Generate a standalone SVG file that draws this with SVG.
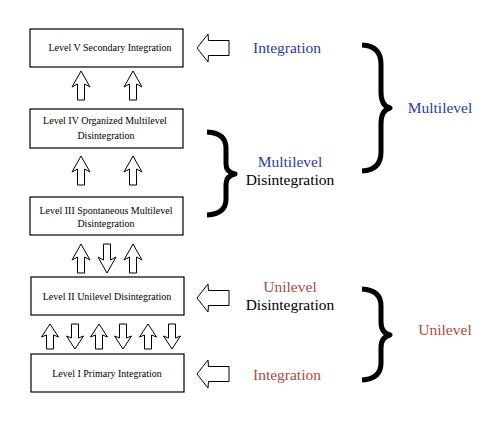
<svg xmlns="http://www.w3.org/2000/svg" width="500" height="425" viewBox="0 0 500 425">
<style>
.box{fill:#fff;stroke:#000;stroke-width:1.2}
.bt{font-family:"Liberation Serif",serif;font-size:10px;fill:#000;text-anchor:middle}
.lbl{font-family:"Liberation Serif",serif;font-size:15.5px;text-anchor:middle}
.blue{fill:#2d3d9a}
.red{fill:#b04a3e}
.arr{fill:#fff;stroke:#000;stroke-width:1}
.brace{fill:none;stroke:#000;stroke-width:5;stroke-linecap:butt;stroke-linejoin:round}
</style>
<defs>
<path id="up" class="arr" d="M0,0 L9,16 L3.5,13 L3.5,29 L-3.5,29 L-3.5,13 L-9,16 Z"/>
<path id="up2" class="arr" d="M0,0 L8.5,13 L3.5,11 L3.5,25 L-3.5,25 L-3.5,11 L-8.5,13 Z"/>
<path id="left" class="arr" d="M0,0 L11,-14 L11.5,-7.5 L32,-7.5 L32,7.5 L11.5,7.5 L11,14 Z"/>
</defs>
<rect width="500" height="425" fill="#fff"/>
<g id="level5"><rect class="box" x="30" y="29" width="153" height="38"/><text class="bt" x="110" y="51">Level V Secondary Integration</text></g>
<g id="level4"><rect class="box" x="30" y="109" width="153" height="39"/><text class="bt" x="105" y="124">Level IV Organized Multilevel</text><text class="bt" x="106" y="139">Disintegration</text></g>
<g id="level3"><rect class="box" x="30" y="197" width="153" height="38"/><text class="bt" x="106" y="214">Level III Spontaneous Multilevel</text><text class="bt" x="106" y="227">Disintegration</text></g>
<g id="level2"><rect class="box" x="31" y="277" width="153" height="38"/><text class="bt" x="107" y="300">Level II Unilevel Disintegration</text></g>
<g id="level1"><rect class="box" x="31" y="354" width="153" height="38"/><text class="bt" x="107" y="377">Level I Primary Integration</text></g>
<g id="connectors">
<use href="#up" x="81" y="71"/>
<use href="#up" x="133" y="71"/>
<use href="#up" x="81" y="156"/>
<use href="#up" x="133" y="156"/>
<use href="#up" x="81" y="244"/>
<use href="#up" transform="translate(107,273) rotate(180)"/>
<use href="#up" x="133" y="244"/>
<use href="#up2" x="50" y="324"/>
<use href="#up2" transform="translate(75,349) rotate(180)"/>
<use href="#up2" x="99" y="324"/>
<use href="#up2" transform="translate(123,349) rotate(180)"/>
<use href="#up2" x="148" y="324"/>
<use href="#up2" transform="translate(172,349) rotate(180)"/>
<use href="#left" x="197" y="48"/>
<use href="#left" x="197" y="298"/>
<use href="#left" x="197" y="374"/>
</g>
<g id="braces">
<path class="brace" d="M362,45 Q381,46 381,64 L381,92 Q381,106 390,108 Q381,110 381,124 L381,152 Q381,170 362,171"/>
<path class="brace" d="M207,132 Q226,133 226,148 L226,164 Q226,172 235,174 Q226,176 226,184 L226,199 Q226,214 207,215"/>
<path class="brace" d="M362,289 Q381,290 381,306 L381,322 Q381,333 390,335 Q381,337 381,348 L381,363 Q381,379 362,380"/>
</g>
<g id="labels">
<text class="lbl blue" x="287" y="53">Integration</text>
<text class="lbl blue" x="440" y="113">Multilevel</text>
<text class="lbl blue" x="290" y="167">Multilevel</text>
<text class="lbl" fill="#000" x="290" y="185">Disintegration</text>
<text class="lbl red" x="290" y="292">Unilevel</text>
<text class="lbl" fill="#000" x="290" y="310">Disintegration</text>
<text class="lbl red" x="287" y="380">Integration</text>
<text class="lbl red" x="445" y="335">Unilevel</text>
</g>
</svg>
